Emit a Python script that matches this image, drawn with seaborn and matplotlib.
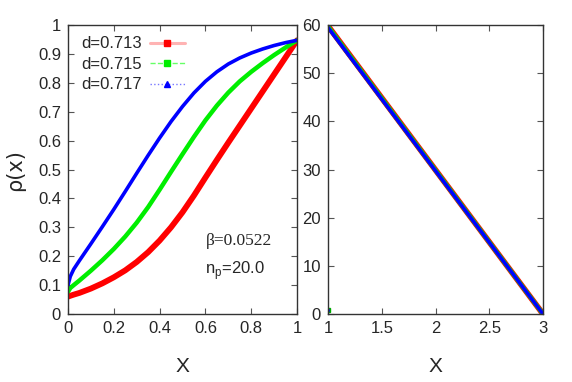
import numpy as np
import pandas as pd
import matplotlib
matplotlib.use("Agg")
import matplotlib.pyplot as plt
from matplotlib.lines import Line2D
import seaborn as sns

# ---- data ----
x_left = [0.0, 0.01, 0.025, 0.05, 0.1, 0.15, 0.2, 0.25, 0.3, 0.35, 0.4, 0.45, 0.5,
          0.55, 0.6, 0.65, 0.7, 0.75, 0.8, 0.85, 0.9, 0.95, 1.0]
rho_713 = [0.060, 0.063, 0.067, 0.073, 0.088, 0.106, 0.127, 0.151, 0.180, 0.214, 0.254,
           0.300, 0.352, 0.410, 0.472, 0.533, 0.593, 0.652, 0.711, 0.770, 0.829, 0.888, 0.947]
rho_715 = [0.077, 0.090, 0.100, 0.116, 0.150, 0.186, 0.225, 0.268, 0.316, 0.370, 0.430,
           0.492, 0.553, 0.613, 0.670, 0.721, 0.766, 0.805, 0.838, 0.868, 0.896, 0.922, 0.947]
rho_717 = [0.100, 0.130, 0.155, 0.185, 0.243, 0.302, 0.362, 0.424, 0.487, 0.549, 0.609,
           0.666, 0.718, 0.765, 0.805, 0.838, 0.865, 0.886, 0.903, 0.917, 0.929, 0.939, 0.947]

x_right = [1.0, 3.0]
right_713 = [59.8, 0.0]
right_715 = [59.7, 0.0]
right_717 = [59.5, 0.0]
right_start_x = [1.0]
right_start_y = [0.8]

labels = ["d=0.713", "d=0.715", "d=0.717"]
colors = ["#ff0000", "#00ee00", "#0000ff"]
light = ["#ffb3b3", "#66ff66", "#7777ff"]
styles = ["-", "--", ":"]
markers = ["s", "s", "^"]
widths = [4.2, 3.2, 2.6]

sns.set_style("ticks")
plt.rcParams["font.family"] = ["Liberation Sans Narrow", "Liberation Sans", "DejaVu Sans"]
plt.rcParams["xtick.direction"] = "in"
plt.rcParams["ytick.direction"] = "in"

left_df = pd.DataFrame({
    "x": x_left * 3,
    "rho": rho_713 + rho_715 + rho_717,
    "d": [labels[0]] * len(x_left) + [labels[1]] * len(x_left) + [labels[2]] * len(x_left),
})
right_df = pd.DataFrame({
    "x": x_right * 3,
    "y": right_713 + right_715 + right_717,
    "d": [labels[0]] * 2 + [labels[1]] * 2 + [labels[2]] * 2,
})

fig = plt.figure(figsize=(5.72, 3.82), dpi=100)
ax1 = fig.add_axes([68 / 572, 68 / 382, 229 / 572, 289 / 382])
ax2 = fig.add_axes([328 / 572, 68 / 382, 215 / 572, 289 / 382])

for lab, c, w in zip(labels, colors, widths):
    sub = left_df[left_df["d"] == lab]
    sns.lineplot(data=sub, x="x", y="rho", ax=ax1, color=c, linewidth=w,
                 legend=False, sort=False, solid_capstyle="round",
                 solid_joinstyle="round")
    subr = right_df[right_df["d"] == lab]
    sns.lineplot(data=subr, x="x", y="y", ax=ax2, color=c, linewidth=w,
                 legend=False, sort=False, solid_capstyle="round")
ax2.plot(right_start_x, right_start_y, marker="s", ms=3.5, color="#0000ff",
         markeredgecolor="#00aa00", linestyle="none")

fs = 12
for ax in (ax1, ax2):
    ax.tick_params(top=True, right=True, length=4.5, width=0.8, labelsize=fs,
                   color="#555555", pad=5)
    for s in ax.spines.values():
        s.set_color("#333333")
        s.set_linewidth(1.0)
    ax.set_xlabel("X", fontsize=15, labelpad=15)
    ax.set_ylabel("")

ax1.set_xlim(0, 1)
ax1.set_ylim(0, 1)
ax1.set_xticks([0, 0.2, 0.4, 0.6, 0.8, 1])
ax1.set_xticklabels(["0", "0.2", "0.4", "0.6", "0.8", "1"])
ax1.set_yticks(np.arange(0, 11) / 10)
ax1.set_yticklabels(["0", "0.1", "0.2", "0.3", "0.4", "0.5", "0.6", "0.7", "0.8", "0.9", "1"])

ax2.set_xlim(1, 3)
ax2.set_ylim(0, 60)
ax2.set_xticks([1, 1.5, 2, 2.5, 3])
ax2.set_xticklabels(["1", "1.5", "2", "2.5", "3"])
ax2.set_yticks([0, 10, 20, 30, 40, 50, 60])

fig.text(15 / 572, 1 - 170 / 382, "ρ(x)", rotation=90, fontsize=15,
         ha="center", va="center", family=["DejaVu Sans"])

handles = [Line2D([], [], color=l, linestyle=s, linewidth=1.0,
                  marker=m, markersize=5, markerfacecolor=c, markeredgecolor=c)
           for l, s, m, c in zip(light, styles, markers, colors)]
handles[0].set_linewidth(2.2)
ax1.legend(handles, labels, loc="upper left", bbox_to_anchor=(0.013, 0.995),
           frameon=False, markerfirst=False, fontsize=fs, handlelength=2.1,
           handletextpad=0.5, labelspacing=0.33, borderaxespad=0.2)

ax1.text(0.6, 0.253, "β=0.0522", transform=ax1.transAxes, fontsize=12.5,
         family=["Liberation Serif", "DejaVu Serif"], ha="left", va="center")
ax1.text(0.6, 0.15, r"n$_\mathregular{p}$=20.0", transform=ax1.transAxes, fontsize=12,
         ha="left", va="center")

fig.savefig("out.png", dpi=100)
